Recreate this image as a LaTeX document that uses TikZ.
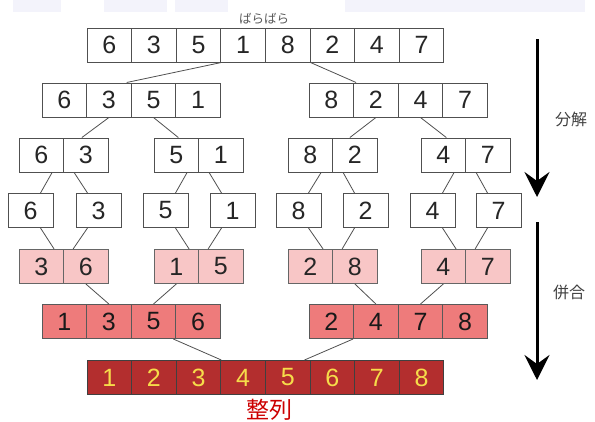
\documentclass[tikz,border=0pt]{standalone}
\usepackage{fontspec}
\setmainfont{Liberation Sans}
\newfontfamily\jp{Noto Sans CJK JP}
\usetikzlibrary{calc,arrows.meta}
\definecolor{pinkA}{HTML}{F8C6C6}
\definecolor{pinkB}{HTML}{EE7B7B}
\definecolor{redC}{HTML}{B32E2E}
\definecolor{digY}{HTML}{F6DC4A}
\definecolor{lineG}{HTML}{505050}
\definecolor{band}{HTML}{F3F3FB}
\tikzset{
  cellw/.style={draw=lineG, line width=1pt, fill=white, inner sep=0pt, minimum height=34pt,
    font=\fontsize{25}{25}\selectfont, text=black!85},
  cellp/.style={cellw, draw=black!60, fill=pinkA},
  cellq/.style={cellw, draw=black!65, fill=pinkB, text=black!90},
  cellr/.style={cellw, draw=black!75, fill=redC, text=digY},
  conn/.style={draw=lineG, line width=0.8pt},
  bigarrow/.style={line width=3pt, -{Stealth[length=25pt,width=25pt,inset=9pt]}},
  jplabel/.style={font=\jp\fontsize{16}{16}\selectfont, text=black!75, inner sep=0pt}
}
\newcommand\cellsrow[6]{%
  \foreach \d [count=\i] in {#6} {
    \node[#5, minimum width=#4pt] (#1\i) at ({#2+(\i-0.5)*#4}, #3) {\d};
  }}
\begin{document}
\begin{tikzpicture}[x=1pt,y=-1pt]
\useasboundingbox (0,0) rectangle (595,421);
% faint top band
\fill[band] (13,0) rectangle (61,12);
\fill[band] (104,0) rectangle (167,12);
\fill[band] (175,0) rectangle (228,12);
\fill[band] (345,0) rectangle (585,12);
% labels
\node[font=\jp\fontsize{12.5}{12.5}\selectfont, text=black!65, inner sep=0pt] (barabara) at (264,19) {ばらばら};
% rows
\cellsrow{R1}{87}{45}{44.6}{cellw}{6,3,5,1,8,2,4,7}
\cellsrow{L2}{42}{100}{44.6}{cellw}{6,3,5,1}
\cellsrow{M2}{309}{100}{44.6}{cellw}{8,2,4,7}
\cellsrow{A3}{19}{155}{44.6}{cellw}{6,3}
\cellsrow{B3}{154}{155}{44.6}{cellw}{5,1}
\cellsrow{C3}{288}{155}{44.6}{cellw}{8,2}
\cellsrow{D3}{421}{155}{44.6}{cellw}{4,7}
\node[cellw, minimum width=45pt] (P1) at (30.5,210.5) {6};
\node[cellw, minimum width=45pt] (P2) at (98.5,210.5) {3};
\node[cellw, minimum width=45pt] (P3) at (165.5,210.5) {5};
\node[cellw, minimum width=45pt] (P4) at (232.5,210.5) {1};
\node[cellw, minimum width=45pt] (P5) at (298.5,210.5) {8};
\node[cellw, minimum width=45pt] (P6) at (365.5,210.5) {2};
\node[cellw, minimum width=45pt] (P7) at (432.5,210.5) {4};
\node[cellw, minimum width=45pt] (P8) at (498.5,210.5) {7};
\cellsrow{A5}{19}{266.5}{44.6}{cellp}{3,6}
\cellsrow{B5}{154}{266.5}{44.6}{cellp}{1,5}
\cellsrow{C5}{288}{266.5}{44.6}{cellp}{2,8}
\cellsrow{D5}{421}{266.5}{44.6}{cellp}{4,7}
\cellsrow{L6}{42}{321.5}{44.6}{cellq}{1,3,5,6}
\cellsrow{M6}{309}{321.5}{44.6}{cellq}{2,4,7,8}
\cellsrow{R7}{87}{377.5}{44.6}{cellr}{1,2,3,4,5,6,7,8}
\node[font=\jp\fontsize{23}{23}\selectfont, text=red!80!black, inner sep=0pt] (seiretsu) at (269,410) {整列};
% connectors
\draw[conn] (R13.south east) -- ($(L23.north west)+(-4,0)$);
\draw[conn] (R15.south east) -- ($(M22.north west)+(3,0)$);
\draw[conn] (L22.south) -- ($(A32.north)+(-4,0)$);
\draw[conn] (L23.south) -- ($(B31.north)+(2,0)$);
\draw[conn] (M22.south) -- ($(C32.north)+(-5,0)$);
\draw[conn] (M23.south) -- ($(D31.north)+(3,0)$);
\foreach \g/\p/\q in {A/1/2,B/3/4,C/5/6,D/7/8} {
  \draw[conn] ($(\g31.south east)+(-12,0)$) -- ($(P\p.north)+(10,0)$);
  \draw[conn] ($(\g31.south east)+(10,0)$) -- ($(P\q.north)+(-11,0)$);
  \draw[conn] ($(P\p.south)+(10,0)$) -- ($(\g51.north east)+(-10,0)$);
  \draw[conn] ($(P\q.south)+(-11,0)$) -- ($(\g51.north east)+(9,0)$);
}
\draw[conn] (A52.south) -- (L62.north);
\draw[conn] (B51.south) -- (L63.north);
\draw[conn] (C52.south) -- (M62.north);
\draw[conn] (D51.south) -- (M63.north);
\draw[conn] ($(L63.south east)+(-3,0)$) -- (R73.north east);
\draw[conn] (M62.south west) -- ($(R75.north east)+(-6,0)$);
% arrows
\coordinate (a1s) at (537,39);
\coordinate (a1e) at (537,197);
\coordinate (a2s) at (537,222);
\coordinate (a2e) at (537,380);
\draw[bigarrow] (a1s) -- (a1e);
\draw[bigarrow] (a2s) -- (a2e);
\node[jplabel] (bunkai) at (571,119) {分解};
\node[jplabel] (heigou) at (569,292) {併合};
\end{tikzpicture}
\end{document}
